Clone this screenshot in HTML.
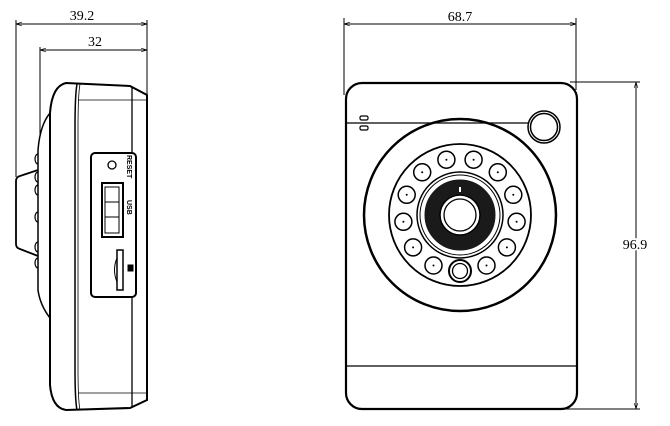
<!DOCTYPE html>
<html><head><style>html,body{margin:0;padding:0;background:#fff}svg{display:block}</style></head>
<body>
<svg width="670" height="426" viewBox="0 0 670 426" xmlns="http://www.w3.org/2000/svg" font-family="Liberation Serif, serif">
<defs>
<marker id="a" viewBox="0 0 10 10" refX="10" refY="5" markerWidth="6" markerHeight="6" orient="auto-start-reverse"><path d="M0,2 L10,5 L0,8" fill="none" stroke="#000" stroke-width="1"/></marker>
</defs>
<g stroke="#000" fill="none">
<!-- side dims -->
<line x1="16" y1="20" x2="16" y2="177" stroke-width="1"/>
<line x1="40" y1="47" x2="40" y2="135" stroke-width="1"/>
<line x1="147" y1="20" x2="147" y2="95" stroke-width="1"/>
<line x1="16" y1="24" x2="147" y2="24" stroke-width="1" marker-start="url(#a)" marker-end="url(#a)"/>
<line x1="40" y1="50" x2="147" y2="50" stroke-width="1" marker-start="url(#a)" marker-end="url(#a)"/>
<!-- side body -->
<path d="M66,83 L130,86 L147,95 L147,400 L130,408 L66,410 Q52,408 50,385 L50,113 Q52,86 66,83 Z" stroke-width="2" fill="#fff"/>
<path d="M50,113 Q40,125 38,150 L38,290 Q40,305 50,318" stroke-width="1.5"/>
<path d="M77,84 Q75,95 75,128 L75,368 Q75,400 77,410" stroke-width="1.5"/>
<path d="M80,84 Q78,95 78,128 L78,368 Q78,400 80,410" stroke-width="0.8"/>
<line x1="132" y1="87" x2="132" y2="407" stroke-width="1.3"/>
<line x1="78" y1="100" x2="147" y2="100" stroke-width="0.8"/>
<line x1="78" y1="393" x2="147" y2="393" stroke-width="0.8"/>
<!-- lens protrusion -->
<path d="M38,170 L20,176 Q16,177 16,181 L16,244 Q16,248 20,249 L38,256" stroke-width="1.8"/>
<g stroke-width="1.2">
<path d="M38,154 a3,5 0 0 0 0,10"/><path d="M38,172 a3,5 0 0 0 0,10"/><path d="M38,185 a3,5 0 0 0 0,10"/>
<path d="M38,212 a3,5 0 0 0 0,10"/><path d="M38,242 a3,5 0 0 0 0,10"/><path d="M38,258 a3,5 0 0 0 0,10"/>
</g>
<!-- port panel -->
<rect x="91" y="153" width="45" height="144" rx="4" stroke-width="2" fill="#fff"/>
<circle cx="112" cy="165" r="4" stroke-width="1.3"/>
<rect x="102" y="183" width="21" height="54" stroke-width="2"/>
<rect x="105" y="187" width="14" height="46" stroke-width="1"/>
<line x1="105" y1="202" x2="119" y2="202" stroke-width="1"/><line x1="105" y1="217" x2="119" y2="217" stroke-width="1"/>
<rect x="117" y="250" width="6" height="40" stroke-width="1.5"/>
<path d="M117,258 q-5,12 0,24" stroke-width="1"/>
<rect x="128" y="265" width="5" height="6" fill="#000"/>
<!-- front dims -->
<line x1="344" y1="18" x2="344" y2="95" stroke-width="1"/>
<line x1="576" y1="18" x2="576" y2="90" stroke-width="1"/>
<line x1="344" y1="24" x2="576" y2="24" stroke-width="1" marker-start="url(#a)" marker-end="url(#a)"/>
<line x1="570" y1="82" x2="640" y2="82" stroke-width="1"/>
<line x1="560" y1="409" x2="640" y2="409" stroke-width="1"/>
<line x1="636" y1="82" x2="636" y2="409" stroke-width="1" marker-start="url(#a)" marker-end="url(#a)"/>
<!-- front body -->
<rect x="346" y="83" width="231" height="326" rx="16" stroke-width="2.2"/>
<line x1="346" y1="123" x2="528" y2="123" stroke-width="1.3"/>
<line x1="346" y1="366" x2="577" y2="366" stroke-width="1.3"/>
<rect x="360" y="116" width="8" height="4" rx="1.5" stroke-width="1.2"/>
<rect x="360" y="126" width="8" height="4" rx="1.5" stroke-width="1.2"/>
<circle cx="544" cy="127" r="16" stroke-width="1.5"/><circle cx="544" cy="127" r="13.5" stroke-width="1.5"/>
<circle cx="460" cy="215" r="96" stroke-width="2.5"/>
<circle cx="460" cy="215" r="71" stroke-width="1.8"/>
<circle cx="460" cy="215" r="43" stroke-width="1.5"/>
<circle cx="460" cy="215" r="40" stroke-width="1"/>
<circle cx="460" cy="215" r="28" stroke="#1a1a1a" stroke-width="15"/>
<circle cx="460" cy="215" r="20" stroke-width="1.5" fill="#fff"/>
<circle cx="460" cy="215" r="16" stroke-width="1.3"/>
<circle cx="460" cy="271" r="11" stroke-width="2" fill="#fff"/>
<circle cx="460" cy="271" r="7.5" stroke-width="1.3"/>
<g stroke-width="1.5">
<circle cx="446.4" cy="159.7" r="8.5"/><circle cx="473.6" cy="159.7" r="8.5"/>
<circle cx="422.2" cy="172.3" r="8.5"/><circle cx="497.8" cy="172.3" r="8.5"/>
<circle cx="406.7" cy="194.8" r="8.5"/><circle cx="513.3" cy="194.8" r="8.5"/>
<circle cx="403.4" cy="221.8" r="8.5"/><circle cx="516.6" cy="221.8" r="8.5"/>
<circle cx="413.1" cy="247.4" r="8.5"/><circle cx="506.9" cy="247.4" r="8.5"/>
<circle cx="433.5" cy="265.5" r="8.5"/><circle cx="486.5" cy="265.5" r="8.5"/>
</g>
</g>
<g fill="#000">
<circle cx="446.4" cy="159.7" r="1"/><circle cx="473.6" cy="159.7" r="1"/>
<circle cx="422.2" cy="172.3" r="1"/><circle cx="497.8" cy="172.3" r="1"/>
<circle cx="406.7" cy="194.8" r="1"/><circle cx="513.3" cy="194.8" r="1"/>
<circle cx="403.4" cy="221.8" r="1"/><circle cx="516.6" cy="221.8" r="1"/>
<circle cx="413.1" cy="247.4" r="1"/><circle cx="506.9" cy="247.4" r="1"/>
<circle cx="433.5" cy="265.5" r="1"/><circle cx="486.5" cy="265.5" r="1"/>
<rect x="459" y="187" width="2" height="5" fill="#fff"/>
</g>
<g font-size="14" fill="#000" text-anchor="middle">
<text x="82" y="20">39.2</text>
<text x="95" y="46">32</text>
<text x="460" y="21">68.7</text>
<text x="635" y="249" style="paint-order:stroke" stroke="#fff" stroke-width="4">96.9</text>
</g>
<g font-family="Liberation Sans, sans-serif" font-weight="bold" font-size="7" fill="#000">
<text transform="translate(127,155) rotate(90)">RESET</text>
<text transform="translate(127,200) rotate(90)">USB</text>
</g>
</svg>
</body></html>
